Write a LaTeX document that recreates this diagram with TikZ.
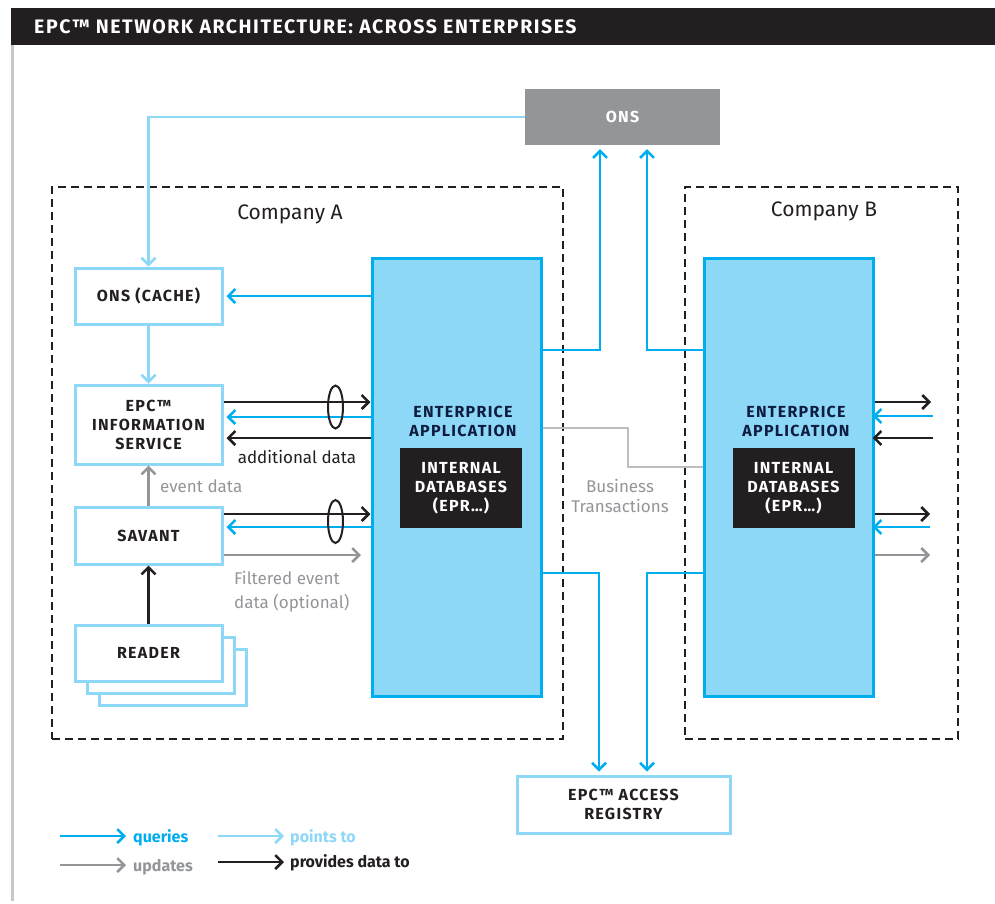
\documentclass[tikz,border=0pt]{standalone}
\usepackage{fontspec}
\setmainfont{Fira Sans}
\newfontfamily\epcspaced[LetterSpace=8]{Fira Sans}
\usetikzlibrary{arrows.meta,shapes.geometric}
\definecolor{blk}{HTML}{231F20}
\definecolor{qblue}{HTML}{00AEEF}
\definecolor{lblue}{HTML}{8DD7F7}
\definecolor{upgray}{HTML}{939598}
\definecolor{bizgray}{HTML}{BCBEC0}
\definecolor{edgegray}{HTML}{C7C8CA}
\definecolor{navy}{HTML}{0E1C40}
\newcommand\epcbold{\epcspaced\fontsize{16}{19}\selectfont\bfseries}
\newcommand\epclabel{\fontsize{17}{20}\selectfont}
\begin{document}
\begin{tikzpicture}[x=1pt,y=-1pt,
  tip/.style={-{Straight Barb[length=7pt,width=14pt]}},
  query/.style={draw=qblue,line width=2.5pt,tip},
  pointsto/.style={draw=lblue,line width=2.5pt,tip},
  provide/.style={draw=blk,line width=2.5pt,tip},
  update/.style={draw=upgray,line width=2.5pt,tip},
  biz/.style={draw=bizgray,line width=2.5pt},
  box/.style={draw=lblue,line width=3pt,fill=white,inner sep=0pt,font=\epcbold,text=blk,align=center},
  eabox/.style={draw=qblue,line width=3pt,fill=lblue,inner sep=0pt,minimum width=169pt,minimum height=438pt},
  dbbox/.style={fill=blk,text=white,inner sep=0pt,font=\epcbold,align=center,minimum width=122pt,minimum height=80pt},
  eatext/.style={text=navy,font=\epcbold,align=center},
  dashbox/.style={draw=blk,line width=2.5pt,dash pattern=on 8pt off 5pt,inner sep=0pt},
  lab/.style={font=\epclabel,inner sep=0pt},
  bundle/.style={draw=blk,line width=2pt,ellipse,inner sep=0pt,minimum width=15pt,minimum height=43pt},
  legtext/.style={font=\fontsize{16}{19}\selectfont\bfseries,inner sep=0pt,anchor=base west}
]
\useasboundingbox (0,0) rectangle (995,903);
% title bar and margin line
\fill[blk] (11,8) rectangle (995,45);
\node[anchor=west,text=white,font=\epcspaced\fontsize{19.5}{22}\selectfont\bfseries,inner sep=0pt] (title) at (34,27) {EPC™ NETWORK ARCHITECTURE: ACROSS ENTERPRISES};
\draw[edgegray,line width=3pt] (12.5,45) -- (12.5,901);

% company frames
\node[dashbox,minimum width=511pt,minimum height=552pt] (compA) at (307.5,463) {};
\node[dashbox,minimum width=273pt,minimum height=552pt] (compB) at (821.5,463) {};
\node[lab,text=blk,font=\fontsize{21}{24}\selectfont] (labA) at (290,214) {Company A};
\node[lab,text=blk,font=\fontsize{21}{24}\selectfont] (labB) at (824,211) {Company B};

% ONS
\node[fill=upgray,text=white,inner sep=0pt,font=\epcbold,minimum width=195pt,minimum height=56pt] (ons) at (622.5,117) {ONS};

% left column
\node[box,minimum width=147pt,minimum height=56pt] (cache) at (148.5,296) {ONS (CACHE)};
\node[box,minimum width=147pt,minimum height=79pt] (epcis) at (148.5,424.5) {EPC™\\INFORMATION\\SERVICE};
\node[box,minimum width=147pt,minimum height=57pt] (savant) at (148.5,535.5) {SAVANT};
\node[box,minimum width=147pt,minimum height=56pt] (reader3) at (172.5,677) {};
\node[box,minimum width=147pt,minimum height=56pt] (reader2) at (160.5,665) {};
\node[box,minimum width=147pt,minimum height=56pt] (reader) at (148.5,653) {READER};

% enterprise applications
\node[eabox] (eaA) at (456.5,477) {};
\node[eabox] (eaB) at (788.5,477) {};
\node[eatext] (eaAt) at (463,421) {ENTERPRICE\\APPLICATION};
\node[eatext] (eaBt) at (796,421) {ENTERPRICE\\APPLICATION};
\node[dbbox] (dbA) at (461,488) {INTERNAL\\DATABASES\\(EPR…)};
\node[dbbox] (dbB) at (793.5,488) {INTERNAL\\DATABASES\\(EPR…)};

% registry
\node[box,minimum width=213pt,minimum height=57pt] (registry) at (623.5,804.5) {EPC™ ACCESS\\REGISTRY};

% points-to connectors
\draw[pointsto] (ons.west) -| (cache.north);
\draw[pointsto] (cache.south) -- (epcis.north);

% queries
\draw[query] (eaA.west |- cache.east) -- ([xshift=3pt]cache.east);
\draw[query] (eaA.east |- 0,350) -| ([xshift=-22.5pt,yshift=-4pt]ons.south);
\draw[query] (eaB.west |- 0,350) -| ([xshift=24.5pt,yshift=-4pt]ons.south);
\draw[query] (eaA.east |- 0,573) -| ([xshift=-24.5pt,yshift=3pt]registry.north);
\draw[query] (eaB.west |- 0,573) -| ([xshift=23.5pt,yshift=3pt]registry.north);

% EPCIS <-> EA A
\draw[provide] (epcis.east |- 0,402) -- (eaA.west |- 0,402);
\draw[query] (eaA.west |- 0,417) -- ([xshift=3pt]epcis.east |- 0,417);
\draw[provide] (eaA.west |- 0,438) -- ([xshift=3pt]epcis.east |- 0,438);
\node[bundle] (ellA1) at (335.5,407) {};
\node[lab,text=blk] (addl) at (297,457) {additional data};

% Savant <-> EA A
\draw[update] (savant.north) -- (epcis.south);
\node[lab,text=upgray,anchor=west] (evd) at (160,486) {event data};
\draw[provide] (reader.north) -- (savant.south);
\draw[provide] (savant.east |- 0,514) -- (eaA.west |- 0,514);
\draw[query] (eaA.west |- 0,527) -- ([xshift=3pt]savant.east |- 0,527);
\node[bundle] (ellA2) at (335.5,521.5) {};
\coordinate (filtEnd) at (361,555);
\draw[update] (savant.east |- filtEnd) -- (filtEnd);
\node[lab,text=upgray,anchor=north west,align=left,font=\fontsize{17}{24}\selectfont] (filt) at (234,571) {Filtered event\\data (optional)};

% business transactions
\coordinate (bizA) at (628,428);
\coordinate (bizB) at (628,467);
\draw[biz] (eaA.east |- bizA) -- (bizA) -- (bizB) -- (eaB.west |- bizB);
\node[lab,text=upgray,align=center,font=\fontsize{17}{20.5}\selectfont] (biztxt) at (620,496) {Business\\Transactions};

% right side of Company B
\coordinate (r1) at (931,402);
\coordinate (r2) at (933,416);
\coordinate (r3) at (933,438);
\coordinate (r4) at (930,514);
\coordinate (r5) at (930,527);
\coordinate (r6) at (930,555);
\draw[provide] (eaB.east |- r1) -- (r1);
\draw[query] (r2) -- ([xshift=-2pt]eaB.east |- r2);
\draw[provide] (r3) -- ([xshift=-2pt]eaB.east |- r3);
\draw[provide] (eaB.east |- r4) -- (r4);
\draw[query] (r5) -- ([xshift=-2pt]eaB.east |- r5);
\draw[update] (eaB.east |- r6) -- (r6);

% legend
\coordinate (lq0) at (60,836);  \coordinate (lq1) at (126,836);
\coordinate (lp0) at (218,836); \coordinate (lp1) at (284,836);
\coordinate (lu0) at (60,865);  \coordinate (lu1) at (126,865);
\coordinate (ld0) at (218,862); \coordinate (ld1) at (284,862);
\draw[query] (lq0) -- (lq1);
\draw[pointsto] (lp0) -- (lp1);
\draw[update] (lu0) -- (lu1);
\draw[provide] (ld0) -- (ld1);
\node[legtext,text=qblue] (tq) at (133,842) {queries};
\node[legtext,text=lblue] (tp) at (290,842) {points to};
\node[legtext,text=upgray] (tu) at (133,871) {updates};
\node[legtext,text=blk] (td) at (290,867) {provides data to};
\end{tikzpicture}
\end{document}
